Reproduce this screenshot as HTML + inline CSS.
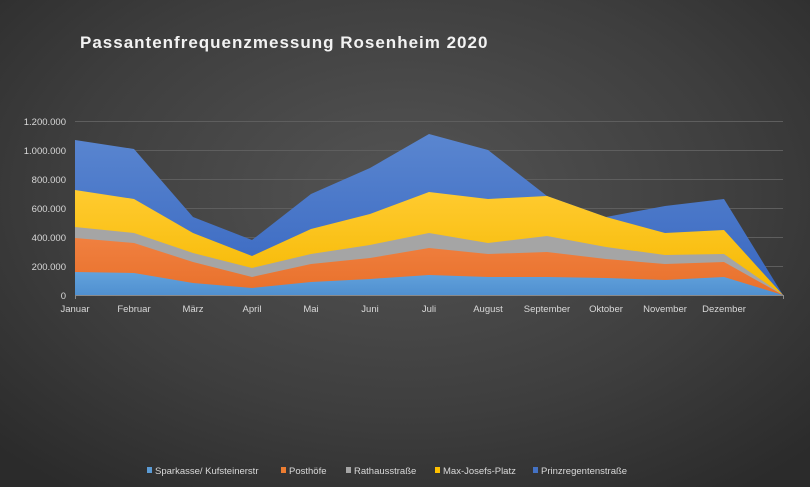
<!DOCTYPE html>
<html><head><meta charset="utf-8"><style>
html,body{margin:0;padding:0;}
body{width:810px;height:487px;overflow:hidden;background:radial-gradient(ellipse 70% 75% at 50% 40%,#545454 0%,#3e3e3e 60%,#2b2b2b 100%);font-family:"Liberation Sans",sans-serif;}
</style></head><body>
<svg width="810" height="487" xmlns="http://www.w3.org/2000/svg" style="position:absolute;left:0;top:0">
<defs>
<linearGradient id="gB" x1="0" y1="0" x2="0" y2="1"><stop offset="0" stop-color="#5a86d0"/><stop offset="1" stop-color="#3766c0"/></linearGradient>
<linearGradient id="gY" x1="0" y1="0" x2="0" y2="1"><stop offset="0" stop-color="#ffcb30"/><stop offset="1" stop-color="#f5b800"/></linearGradient>
<linearGradient id="gO" x1="0" y1="0" x2="0" y2="1"><stop offset="0" stop-color="#f08040"/><stop offset="1" stop-color="#e8702a"/></linearGradient>
<linearGradient id="gL" x1="0" y1="0" x2="0" y2="1"><stop offset="0" stop-color="#62a2dc"/><stop offset="1" stop-color="#5090d0"/></linearGradient>
</defs>
<text x="80" y="48" fill="#f2f2f2" font-size="17" font-weight="bold" letter-spacing="1" font-family="Liberation Sans, sans-serif">Passantenfrequenzmessung Rosenheim 2020</text>
<g stroke="#5e5e5e" stroke-width="1">
<line x1="75" x2="783" y1="121.5" y2="121.5"/><line x1="75" x2="783" y1="150.5" y2="150.5"/><line x1="75" x2="783" y1="179.5" y2="179.5"/><line x1="75" x2="783" y1="208.5" y2="208.5"/><line x1="75" x2="783" y1="237.5" y2="237.5"/><line x1="75" x2="783" y1="266.5" y2="266.5"/>
</g>
<g fill="#d9d9d9" font-size="9.5" text-anchor="end">
<text x="66" y="125">1.200.000</text><text x="66" y="154">1.000.000</text><text x="66" y="183">800.000</text><text x="66" y="212">600.000</text><text x="66" y="241">400.000</text><text x="66" y="270">200.000</text><text x="66" y="299">0</text>
</g>
<polygon fill="url(#gB)" points="75,140 134,149 193,217 252,240 311,194 370,168 429,134 488,150 547,196 606,217 665,206 724,199 783,295 75,295"/>
<polygon fill="url(#gY)" points="75,190 134,199 193,233 252,256 311,229 370,214 429,192 488,199 547,196 606,217 665,233 724,230 783,295 75,295"/>
<polygon fill="#a5a5a5" points="75,227 134,233 193,253 252,268 311,254 370,245 429,233 488,243 547,236 606,247 665,255 724,254 783,295 75,295"/>
<polygon fill="url(#gO)" points="75,238 134,243 193,262 252,277 311,264 370,258 429,248 488,254 547,252 606,259 665,264 724,262 783,295 75,295"/>
<polygon fill="url(#gL)" points="75,272 134,273 193,283 252,288 311,282 370,279 429,275 488,277 547,277 606,278 665,280 724,277 783,295 75,295"/>
<line x1="75" x2="783" y1="295.5" y2="295.5" stroke="#8a8a8a"/>
<g stroke="#8a8a8a"><line x1="75.5" x2="75.5" y1="295" y2="299"/><line x1="783.5" x2="783.5" y1="295" y2="299"/></g>
<g fill="#d9d9d9" font-size="9.5" text-anchor="middle">
<text x="75" y="312">Januar</text><text x="134" y="312">Februar</text><text x="193" y="312">März</text><text x="252" y="312">April</text><text x="311" y="312">Mai</text><text x="370" y="312">Juni</text><text x="429" y="312">Juli</text><text x="488" y="312">August</text><text x="547" y="312">September</text><text x="606" y="312">Oktober</text><text x="665" y="312">November</text><text x="724" y="312">Dezember</text>
</g>
<g font-size="9.5" fill="#d9d9d9">
<rect x="147" y="467" width="5" height="6" fill="#5b9bd5"/><text x="155" y="474">Sparkasse/ Kufsteinerstr</text>
<rect x="281" y="467" width="5" height="6" fill="#ed7d31"/><text x="289" y="474">Posthöfe</text>
<rect x="346" y="467" width="5" height="6" fill="#a5a5a5"/><text x="354" y="474">Rathausstraße</text>
<rect x="435" y="467" width="5" height="6" fill="#ffc000"/><text x="443" y="474">Max-Josefs-Platz</text>
<rect x="533" y="467" width="5" height="6" fill="#4472c4"/><text x="541" y="474">Prinzregentenstraße</text>
</g>
</svg>
</body></html>
